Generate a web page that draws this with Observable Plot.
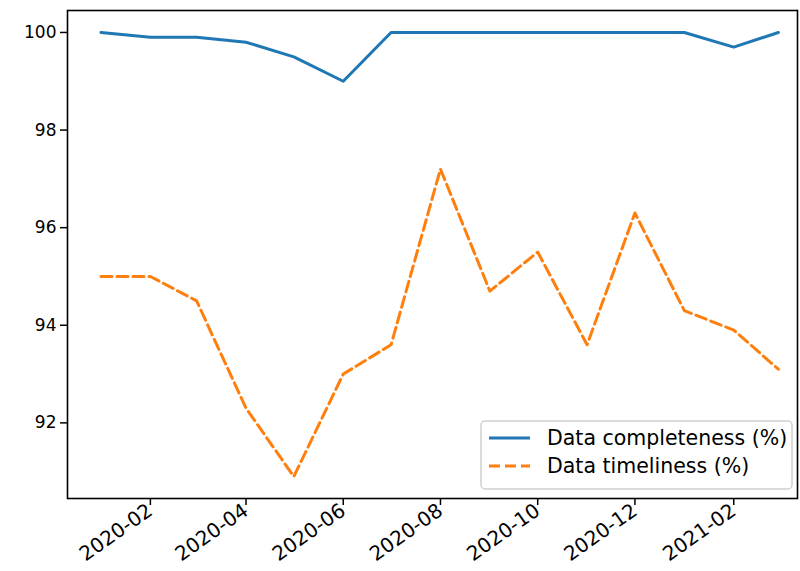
<!DOCTYPE html>
<html>
<head>
<meta charset="utf-8">
<script src="https://cdn.jsdelivr.net/npm/d3@7"></script>
<script src="https://cdn.jsdelivr.net/npm/@observablehq/plot@0.6"></script>
<style>
  html, body { margin: 0; padding: 0; background: #fff; }
  #chart { width: 800px; height: 571px; }
  svg { font-family: "DejaVu Sans", sans-serif; }
</style>
</head>
<body>
<div id="chart"></div>
<script>
const months = ["2020-01","2020-02","2020-03","2020-04","2020-05","2020-06","2020-07","2020-08","2020-09","2020-10","2020-11","2020-12","2021-01","2021-02","2021-03"];
const completeness = [100, 99.9, 99.9, 99.8, 99.5, 99.0, 100, 100, 100, 100, 100, 100, 100, 99.7, 100];
const timeliness = [95.0, 95.0, 94.5, 92.3, 90.9, 93.0, 93.6, 97.2, 94.7, 95.5, 93.6, 96.3, 94.3, 93.9, 93.1];
const xTickLabels = ["2020-02","2020-04","2020-06","2020-08","2020-10","2020-12","2021-02"];
const yTicks = [92, 94, 96, 98, 100];
const seriesNames = ["Data completeness (%)", "Data timeliness (%)"];

const parse = d3.utcParse("%Y-%m");
const data = months.map((m, i) => ({date: parse(m), completeness: completeness[i], timeliness: timeliness[i]}));
const xTicks = xTickLabels.map(parse);

const blue = "#1f77b4", orange = "#ff7f0e";
const dash = "11,5";

const chart = Plot.plot({
  width: 800,
  height: 571,
  marginLeft: 67,
  marginRight: 3,
  marginTop: 10,
  marginBottom: 73,
  style: {fontFamily: "DejaVu Sans, sans-serif", background: "#fff"},
  x: {type: "utc", domain: [new Date("2019-12-11"), new Date("2021-03-13")]},
  y: {domain: [90.45, 100.45]},
  marks: [
    Plot.axisY({ticks: yTicks, tickSize: 7, tickPadding: 4, fontSize: 17, label: null, stroke: "#000", strokeWidth: 1.5, color: "#000"}),
    Plot.axisX({ticks: xTicks, tickFormat: d3.utcFormat("%Y-%m"), tickRotate: -35, tickSize: 7, tickPadding: 3, fontSize: 20, label: null, strokeWidth: 1.5, color: "#000"}),
    Plot.line(data, {x: "date", y: "completeness", stroke: blue, strokeWidth: 3}),
    Plot.line(data, {x: "date", y: "timeliness", stroke: orange, strokeWidth: 3, strokeDasharray: dash}),
    Plot.frame({stroke: "#000", strokeWidth: 1.6})
  ]
});

document.getElementById("chart").appendChild(chart);

// legend (matplotlib style, lower right)
const svg = d3.select(chart);
const lg = svg.append("g").attr("text-anchor", "start");
lg.append("rect").attr("x", 481).attr("y", 421).attr("width", 311).attr("height", 68)
  .attr("rx", 4).attr("fill", "#fff").attr("fill-opacity", 0.8).attr("stroke", "#d0d0d0").attr("stroke-width", 1.5);
const styles = [{stroke: blue, dash: null}, {stroke: orange, dash: dash}];
seriesNames.forEach((name, i) => {
  const y = 438 + i * 28;
  lg.append("line").attr("x1", 489).attr("x2", 530).attr("y1", y).attr("y2", y)
    .attr("stroke", styles[i].stroke).attr("stroke-width", 3)
    .attr("stroke-dasharray", styles[i].dash);
  lg.append("text").attr("x", 547).attr("y", y).attr("dy", "0.35em")
    .attr("font-size", 20.5).attr("fill", "#000").text(name);
});
</script>
</body>
</html>
